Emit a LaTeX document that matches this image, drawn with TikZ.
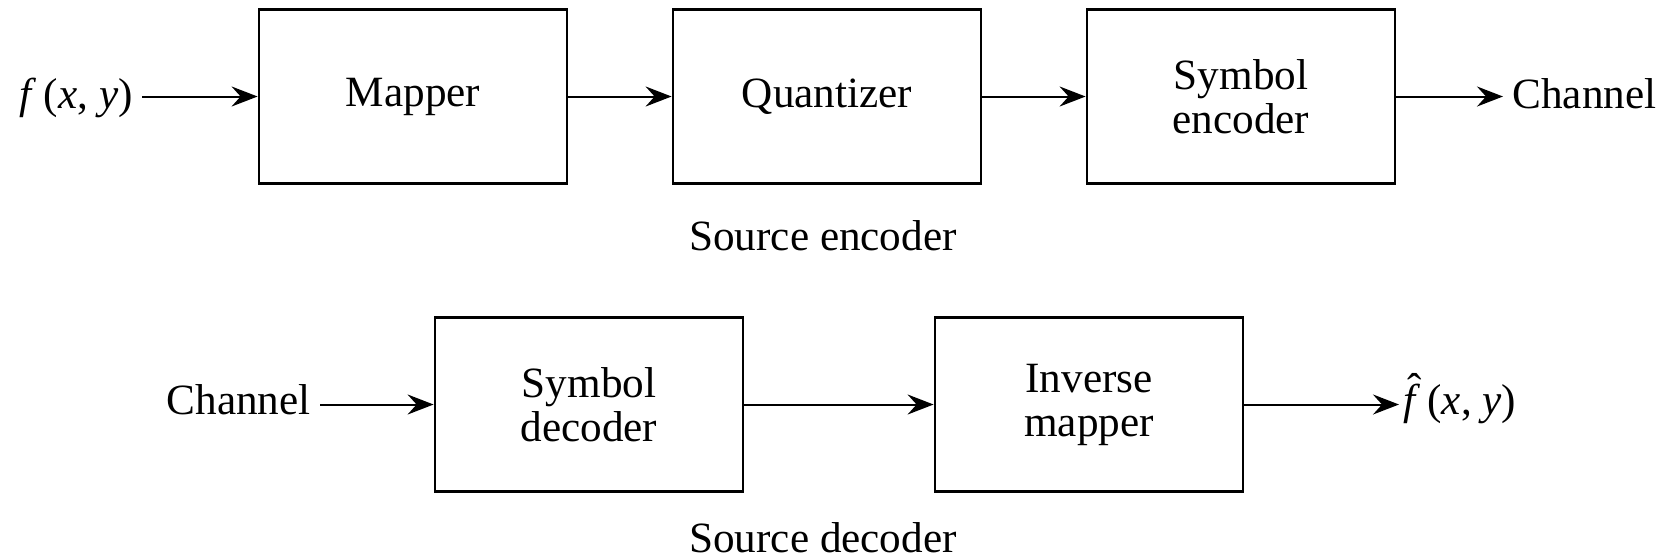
\documentclass[tikz,border=0pt]{standalone}
\usepackage{fontspec}
\setmainfont{Liberation Serif}
\usetikzlibrary{arrows.meta}
\tikzset{
  blockbox/.style={draw, line width=1.4pt, minimum width=154pt, minimum height=87pt, inner sep=0pt, align=center, font=\fontsize{21.6}{22}\selectfont},
  lbl/.style={inner xsep=4.5pt, inner ysep=0pt, font=\fontsize{21.6}{22}\selectfont},
  conn/.style={line width=1pt, -{Stealth[length=13pt, width=10pt, inset=4.5pt]}}
}
\begin{document}
\begin{tikzpicture}[x=0.5pt,y=-0.5pt]
\useasboundingbox (0,0) rectangle (1672,559);
% top row
\node[blockbox] (map) at (413,96.5) {Mapper};
\node[blockbox] (quant) at (827,96.5) {Quantizer};
\node[blockbox] (senc) at (1241,96.5) {Symbol\\encoder};
\node[lbl, anchor=base east] (fin) at (142,108) {\textit{f}\,(\textit{x}, \textit{y})};
\node[lbl, anchor=base west] (chout) at (1503,108) {Channel};
\node[lbl] (srcenc) at (823,236) {Source encoder};
\draw[conn] (fin.east |- map.west) -- (map.west);
\draw[conn] (map.east) -- (quant.west);
\draw[conn] (quant.east) -- (senc.west);
\draw[conn] (senc.east) -- (chout.west |- senc.east);
% bottom row
\node[blockbox] (sdec) at (589,404.5) {Symbol\\decoder};
\node[blockbox] (imap) at (1089,404.5) {Inverse\\mapper};
\node[lbl, anchor=base east] (chin) at (320,414) {Channel};
\node[lbl, anchor=base west, inner xsep=2pt] (fout) at (1399,414) {\rlap{\kern0.1em\raisebox{0.24em}{ˆ}}\textit{f}\,(\textit{x}, \textit{y})};
\node[lbl] (srcdec) at (823,538) {Source decoder};
\draw[conn] (chin.east |- sdec.west) -- (sdec.west);
\draw[conn] (sdec.east) -- (imap.west);
\draw[conn] (imap.east) -- (fout.west |- imap.east);
\end{tikzpicture}
\end{document}
